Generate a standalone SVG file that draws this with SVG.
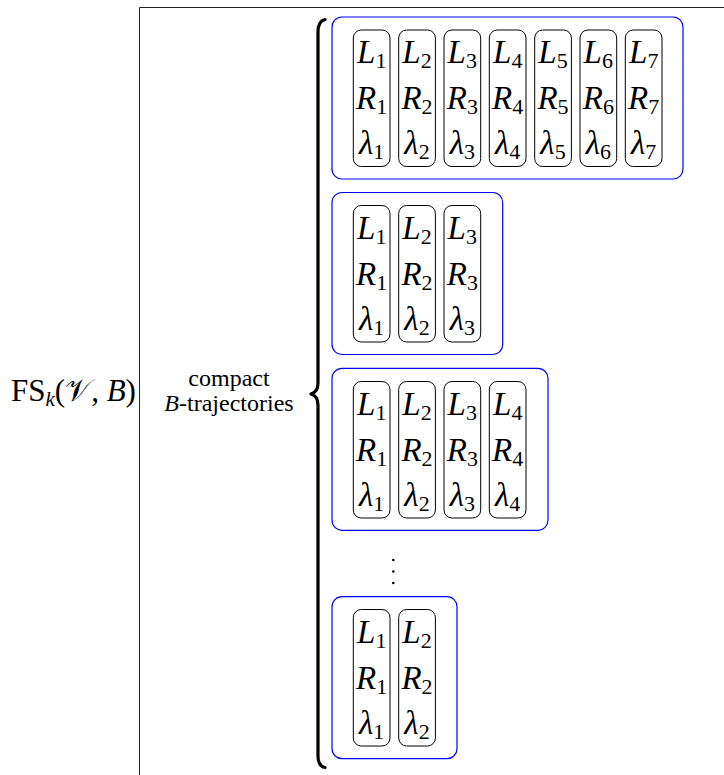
<svg xmlns="http://www.w3.org/2000/svg" width="724" height="775" viewBox="0 0 724 775" font-family="'Liberation Serif', 'DejaVu Serif', serif">
<style>
  .frame { stroke: #222; stroke-width: 1; fill: none; }
  .brace { stroke: #000; stroke-width: 3.2; fill: none; stroke-linecap: round; stroke-linejoin: round; }
  .blue { fill: none; stroke: #0000ff; stroke-width: 1.2; }
  .col { fill: none; stroke: #000; stroke-width: 1; }
  text { font-family: 'Liberation Serif', 'DejaVu Serif', serif; fill: #000; }
  .m { font-style: italic; font-size: 33px; text-anchor: middle; }
  .sub { font-style: normal; font-size: 22px; }
  .lbl { font-size: 24px; text-anchor: middle; }
  .fs { font-size: 31px; }
  .dot { fill: #000; }
</style>
<rect width="724" height="775" fill="#fff"/>
<g id="connectors">
  <path class="frame" d="M139.5 775 L139.5 7.5 L724 7.5"/>
  <path class="brace" d="M325 19.5 Q318 21 318 32 L318 383 Q318 392 311 394 Q318 396 318 405 L318 756 Q318 766 325 767.5"/>
</g>
<g id="label-fs">
  <text class="fs" x="11" y="401">FS<tspan font-style="italic" font-size="21" dy="5">k</tspan><tspan dy="-5">(𝒱, <tspan font-style="italic">B</tspan>)</tspan></text>
</g>
<g id="label-compact">
  <text class="lbl" x="229" y="386">compact</text>
  <text class="lbl" x="229" y="411"><tspan font-style="italic">B</tspan>-trajectories</text>
</g>
<g id="traj1">
  <rect class="blue" x="332" y="17" width="351" height="162" rx="10"/>
  <g id="traj1-c1"><rect class="col" x="353.3" y="30" width="36.7" height="136.5" rx="8"/>
    <text class="m" x="371.7" y="63">L<tspan class="sub" dy="5">1</tspan></text>
    <text class="m" x="371.7" y="109">R<tspan class="sub" dy="5">1</tspan></text>
    <text class="m" x="371.7" y="154">λ<tspan class="sub" dy="5">1</tspan></text></g>
  <g id="traj1-c2"><rect class="col" x="398.7" y="30" width="36.7" height="136.5" rx="8"/>
    <text class="m" x="417" y="63">L<tspan class="sub" dy="5">2</tspan></text>
    <text class="m" x="417" y="109">R<tspan class="sub" dy="5">2</tspan></text>
    <text class="m" x="417" y="154">λ<tspan class="sub" dy="5">2</tspan></text></g>
  <g id="traj1-c3"><rect class="col" x="444" y="30" width="36.7" height="136.5" rx="8"/>
    <text class="m" x="462.3" y="63">L<tspan class="sub" dy="5">3</tspan></text>
    <text class="m" x="462.3" y="109">R<tspan class="sub" dy="5">3</tspan></text>
    <text class="m" x="462.3" y="154">λ<tspan class="sub" dy="5">3</tspan></text></g>
  <g id="traj1-c4"><rect class="col" x="489.3" y="30" width="36.7" height="136.5" rx="8"/>
    <text class="m" x="507.7" y="63">L<tspan class="sub" dy="5">4</tspan></text>
    <text class="m" x="507.7" y="109">R<tspan class="sub" dy="5">4</tspan></text>
    <text class="m" x="507.7" y="154">λ<tspan class="sub" dy="5">4</tspan></text></g>
  <g id="traj1-c5"><rect class="col" x="534.7" y="30" width="36.7" height="136.5" rx="8"/>
    <text class="m" x="553" y="63">L<tspan class="sub" dy="5">5</tspan></text>
    <text class="m" x="553" y="109">R<tspan class="sub" dy="5">5</tspan></text>
    <text class="m" x="553" y="154">λ<tspan class="sub" dy="5">5</tspan></text></g>
  <g id="traj1-c6"><rect class="col" x="580" y="30" width="36.7" height="136.5" rx="8"/>
    <text class="m" x="598.3" y="63">L<tspan class="sub" dy="5">6</tspan></text>
    <text class="m" x="598.3" y="109">R<tspan class="sub" dy="5">6</tspan></text>
    <text class="m" x="598.3" y="154">λ<tspan class="sub" dy="5">6</tspan></text></g>
  <g id="traj1-c7"><rect class="col" x="625.3" y="30" width="36.7" height="136.5" rx="8"/>
    <text class="m" x="643.7" y="63">L<tspan class="sub" dy="5">7</tspan></text>
    <text class="m" x="643.7" y="109">R<tspan class="sub" dy="5">7</tspan></text>
    <text class="m" x="643.7" y="154">λ<tspan class="sub" dy="5">7</tspan></text></g>
</g>
<g id="traj2">
  <rect class="blue" x="332" y="192.5" width="170.7" height="162" rx="10"/>
  <g id="traj2-c1"><rect class="col" x="353.3" y="205.5" width="36.7" height="136.5" rx="8"/>
    <text class="m" x="371.7" y="238.5">L<tspan class="sub" dy="5">1</tspan></text>
    <text class="m" x="371.7" y="284.5">R<tspan class="sub" dy="5">1</tspan></text>
    <text class="m" x="371.7" y="329.5">λ<tspan class="sub" dy="5">1</tspan></text></g>
  <g id="traj2-c2"><rect class="col" x="398.7" y="205.5" width="36.7" height="136.5" rx="8"/>
    <text class="m" x="417" y="238.5">L<tspan class="sub" dy="5">2</tspan></text>
    <text class="m" x="417" y="284.5">R<tspan class="sub" dy="5">2</tspan></text>
    <text class="m" x="417" y="329.5">λ<tspan class="sub" dy="5">2</tspan></text></g>
  <g id="traj2-c3"><rect class="col" x="444" y="205.5" width="36.7" height="136.5" rx="8"/>
    <text class="m" x="462.3" y="238.5">L<tspan class="sub" dy="5">3</tspan></text>
    <text class="m" x="462.3" y="284.5">R<tspan class="sub" dy="5">3</tspan></text>
    <text class="m" x="462.3" y="329.5">λ<tspan class="sub" dy="5">3</tspan></text></g>
</g>
<g id="traj3">
  <rect class="blue" x="332" y="368.3" width="216" height="162" rx="10"/>
  <g id="traj3-c1"><rect class="col" x="353.3" y="381.5" width="36.7" height="136.5" rx="8"/>
    <text class="m" x="371.7" y="414.5">L<tspan class="sub" dy="5">1</tspan></text>
    <text class="m" x="371.7" y="460.5">R<tspan class="sub" dy="5">1</tspan></text>
    <text class="m" x="371.7" y="505.5">λ<tspan class="sub" dy="5">1</tspan></text></g>
  <g id="traj3-c2"><rect class="col" x="398.7" y="381.5" width="36.7" height="136.5" rx="8"/>
    <text class="m" x="417" y="414.5">L<tspan class="sub" dy="5">2</tspan></text>
    <text class="m" x="417" y="460.5">R<tspan class="sub" dy="5">2</tspan></text>
    <text class="m" x="417" y="505.5">λ<tspan class="sub" dy="5">2</tspan></text></g>
  <g id="traj3-c3"><rect class="col" x="444" y="381.5" width="36.7" height="136.5" rx="8"/>
    <text class="m" x="462.3" y="414.5">L<tspan class="sub" dy="5">3</tspan></text>
    <text class="m" x="462.3" y="460.5">R<tspan class="sub" dy="5">3</tspan></text>
    <text class="m" x="462.3" y="505.5">λ<tspan class="sub" dy="5">3</tspan></text></g>
  <g id="traj3-c4"><rect class="col" x="489.3" y="381.5" width="36.7" height="136.5" rx="8"/>
    <text class="m" x="507.7" y="414.5">L<tspan class="sub" dy="5">4</tspan></text>
    <text class="m" x="507.7" y="460.5">R<tspan class="sub" dy="5">4</tspan></text>
    <text class="m" x="507.7" y="505.5">λ<tspan class="sub" dy="5">4</tspan></text></g>
</g>
<g id="vdots">
  <circle class="dot" cx="393.3" cy="560" r="1.3"/>
  <circle class="dot" cx="393.3" cy="571.5" r="1.3"/>
  <circle class="dot" cx="393.3" cy="583" r="1.3"/>
</g>
<g id="traj4">
  <rect class="blue" x="332" y="596.7" width="125" height="162" rx="10"/>
  <g id="traj4-c1"><rect class="col" x="353.3" y="609.5" width="36.7" height="136.5" rx="8"/>
    <text class="m" x="371.7" y="642.5">L<tspan class="sub" dy="5">1</tspan></text>
    <text class="m" x="371.7" y="688.5">R<tspan class="sub" dy="5">1</tspan></text>
    <text class="m" x="371.7" y="733.5">λ<tspan class="sub" dy="5">1</tspan></text></g>
  <g id="traj4-c2"><rect class="col" x="398.7" y="609.5" width="36.7" height="136.5" rx="8"/>
    <text class="m" x="417" y="642.5">L<tspan class="sub" dy="5">2</tspan></text>
    <text class="m" x="417" y="688.5">R<tspan class="sub" dy="5">2</tspan></text>
    <text class="m" x="417" y="733.5">λ<tspan class="sub" dy="5">2</tspan></text></g>
</g>
</svg>
